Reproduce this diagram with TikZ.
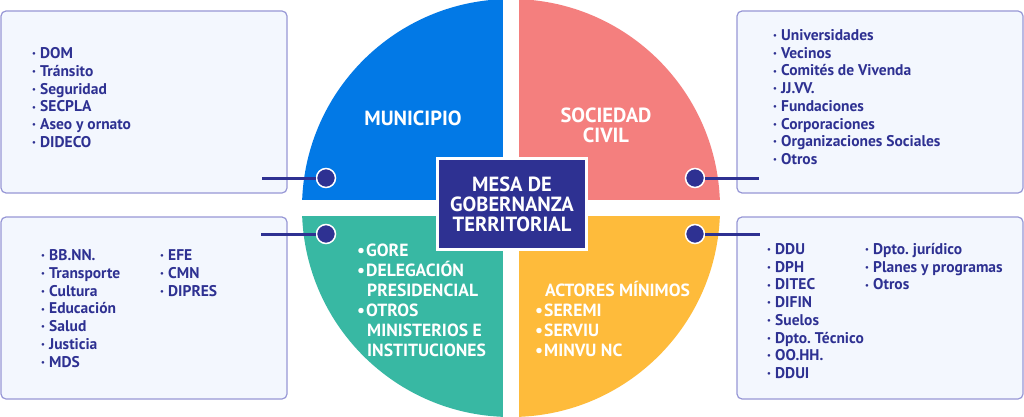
\documentclass[tikz,border=0pt]{standalone}
\usepackage{fontspec}
\usepackage{graphicx}
\setmainfont{PT Sans}
\definecolor{qblue}{HTML}{0279E6}
\definecolor{qred}{HTML}{F47F7E}
\definecolor{qgreen}{HTML}{38B8A3}
\definecolor{qyellow}{HTML}{FEBB3B}
\definecolor{navy}{HTML}{2E3192}
\definecolor{boxfill}{HTML}{F3F7FE}
\definecolor{boxline}{HTML}{9797D6}
\newcommand\sbul{\makebox[8pt][l]{\raisebox{0.12em}{\scalebox{0.55}{\textbullet}}}}
\newcommand\wbul{\makebox[9pt][l]{\textbullet}}
\newcommand\lstfont{\fontsize{15.5}{18}\selectfont\bfseries}
\newcommand\quadfont{\fontsize{17.6}{20}\selectfont\bfseries}
\newcommand\titfont{\fontsize{20.5}{20}\selectfont\bfseries}
\frenchspacing
\begin{document}
\begin{tikzpicture}[x=1pt,y=-1pt,
  infobox/.style={draw=boxline, fill=boxfill, line width=1.2pt, rounded corners=5pt,
    minimum width=286pt, minimum height=182pt, inner sep=0pt},
  dotnode/.style={circle, fill=navy, draw=white, line width=1.5pt, minimum size=19pt, inner sep=0pt},
  link/.style={draw=navy, line width=3pt},
  litem/.style={anchor=base west, text=navy, font=\lstfont, inner sep=0pt},
  qitem/.style={anchor=base west, text=white, font=\quadfont, inner sep=0pt},
  qtitle/.style={text=white, font=\titfont, align=center, inner sep=0pt}
]
\fill[white] (0,0) rectangle (1024,417);
\useasboundingbox (0,0) rectangle (1024,417);

% quadrants
\begin{scope}
  \clip (511,208) circle[radius=209];
  \fill[qblue] (300,-5) rectangle (503,200);
  \fill[qred] (519,-5) rectangle (725,200);
  \fill[qgreen] (300,216) rectangle (503,425);
  \fill[qyellow] (519,216) rectangle (725,425);
\end{scope}

% side boxes
\node[infobox] (boxTL) at (144,102) {};
\node[infobox] (boxTR) at (880,102) {};
\node[infobox] (boxBL) at (144,308) {};
\node[infobox] (boxBR) at (880,308) {};

% connectors
\coordinate (endTL) at (262,178);
\coordinate (endTR) at (759,178);
\coordinate (endBL) at (261,234);
\coordinate (endBR) at (760,234);
\node[dotnode] (dotTL) at (326,178) {};
\node[dotnode] (dotTR) at (695,178) {};
\node[dotnode] (dotBL) at (326,234) {};
\node[dotnode] (dotBR) at (695,234) {};
\draw[link] (endTL) -- (dotTL.west);
\draw[link] (dotTR.east) -- (endTR);
\draw[link] (endBL) -- (dotBL.west);
\draw[link] (dotBR.east) -- (endBR);

% center box
\node[fill=navy, draw=white, line width=3pt, minimum width=149pt, minimum height=91pt,
  text=white, font=\titfont, align=center, inner sep=0pt] (mesa) at (512,204)
  {MESA DE\\GOBERNANZA\\TERRITORIAL};

% quadrant titles
\node[qtitle] (municipio) at (413,118) {MUNICIPIO};
\node[qtitle] (sociedad) at (606,125) {SOCIEDAD\\CIVIL};

% green quadrant
\node[qitem] (g1) at (357,256) {\wbul GORE};
\node[qitem] (g2) at (357,276) {\wbul DELEGACIÓN};
\node[qitem] (g3) at (367,296) {PRESIDENCIAL};
\node[qitem] (g4) at (357,316) {\wbul OTROS};
\node[qitem] (g5) at (367,336) {MINISTERIOS E};
\node[qitem] (g6) at (367,356) {INSTITUCIONES};

% yellow quadrant
\node[qitem] (y0) at (545,296) {ACTORES MÍNIMOS};
\node[qitem] (y1) at (535,316) {\wbul SEREMI};
\node[qitem] (y2) at (535,336) {\wbul SERVIU};
\node[qitem] (y3) at (535,356) {\wbul MINVU NC};

% lists
\foreach \t [count=\i from 0] in {DOM,Tránsito,Seguridad,SECPLA,Aseo y ornato,DIDECO}
  \node[litem] (tl\i) at (32,{58.5+17.8*\i}) {\sbul\t};
\foreach \t [count=\i from 0] in {Universidades,Vecinos,Comités de Vivenda,JJ.VV.,Fundaciones,Corporaciones,Organizaciones Sociales,Otros}
  \node[litem] (tr\i) at (773,{40.5+17.7*\i}) {\sbul\t};
\foreach \t [count=\i from 0] in {BB.NN.,Transporte,Cultura,Educación,Salud,Justicia,MDS}
  \node[litem] (bl\i) at (41,{260.5+17.8*\i}) {\sbul\t};
\foreach \t [count=\i from 0] in {EFE,CMN,DIPRES}
  \node[litem] (blb\i) at (160,{260.5+17.8*\i}) {\sbul\t};
\foreach \t [count=\i from 0] in {DDU,DPH,DITEC,DIFIN,Suelos,Dpto. Técnico,OO.HH.,DDUI}
  \node[litem] (br\i) at (767,{254.5+17.7*\i}) {\sbul\t};
\foreach \t [count=\i from 0] in {Dpto. jurídico,Planes y programas,Otros}
  \node[litem] (brb\i) at (865,{254.5+17.7*\i}) {\sbul\t};
\end{tikzpicture}
\end{document}
